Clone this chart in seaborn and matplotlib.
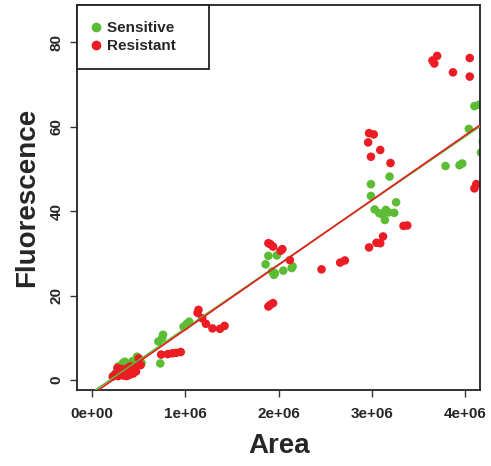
import numpy as np
import pandas as pd
import matplotlib
matplotlib.use("Agg")
import matplotlib.pyplot as plt
import seaborn as sns

# values (area in units of 1e6)
sens_area = [0.25, 0.28, 0.33, 0.35, 0.38, 0.43, 0.48, 0.53,
             0.71, 0.73, 0.75, 0.76,
             0.98, 1.00, 1.015, 1.04,
             1.86, 1.89, 1.93, 1.95, 1.96, 1.98, 2.05, 2.14, 2.15,
             2.99, 2.99, 3.03, 3.08, 3.11, 3.14, 3.15, 3.18, 3.19, 3.24, 3.26,
             3.79, 3.94, 3.97, 4.04, 4.10, 4.15, 4.17, 4.19]
sens_fluor = [1.5, 3.2, 4.0, 4.3, 3.6, 4.4, 5.5, 4.0,
              9.1, 3.9, 9.9, 10.7,
              12.6, 12.8, 13.3, 13.8,
              27.4, 29.4, 25.7, 24.9, 25.3, 29.5, 25.9, 26.5, 26.9,
              46.4, 43.6, 40.4, 39.5, 39.3, 37.9, 40.3, 39.7, 48.2, 39.6, 42.1,
              50.7, 50.9, 51.3, 59.5, 64.9, 65.2, 53.9, 56.5]

res_area = [0.22, 0.24, 0.27, 0.28, 0.30, 0.31, 0.33, 0.34, 0.36, 0.37,
            0.38, 0.40, 0.41, 0.42, 0.44, 0.45, 0.47, 0.50, 0.52,
            0.74, 0.81, 0.86, 0.90, 0.95,
            1.13, 1.14, 1.18, 1.22, 1.29, 1.37, 1.42,
            1.89, 1.91, 1.94, 2.02, 2.04, 2.12, 1.89, 1.91, 1.94,
            2.46, 2.66, 2.71,
            2.97, 3.02, 2.96, 3.09, 2.99, 3.20, 3.34, 3.38, 3.12, 3.05, 3.09, 2.97,
            3.65, 3.67, 3.70, 3.87, 4.05, 4.05, 4.10, 4.12]
res_fluor = [0.8, 1.2, 2.8, 0.9, 1.6, 2.6, 2.2, 1.0, 1.8, 0.9,
             2.8, 1.2, 3.2, 2.3, 1.5, 3.0, 2.0, 5.1, 3.5,
             6.0, 6.1, 6.3, 6.4, 6.6,
             15.9, 16.6, 14.6, 13.3, 12.2, 12.1, 12.8,
             32.4, 32.2, 31.6, 30.6, 31.0, 28.4, 17.4, 17.8, 18.2,
             26.2, 27.8, 28.3,
             58.5, 58.2, 56.3, 54.5, 52.9, 51.4, 36.5, 36.6, 34.0, 32.5, 32.4, 31.4,
             75.7, 75.0, 76.8, 72.9, 76.3, 71.9, 45.4, 46.4]

groups = ["Sensitive", "Resistant"]
colors = {"Sensitive": "#5cbd35", "Resistant": "#ec1c24"}
# fitted lines as shown in the reference: (intercept, slope per unit area)
fit_intercept = {"Sensitive": -2.92, "Resistant": -3.43}
fit_slope = {"Sensitive": 15.15e-6, "Resistant": 15.35e-6}

df = pd.DataFrame({
    "Area": np.array(sens_area + res_area) * 1e6,
    "Fluorescence": sens_fluor + res_fluor,
    "Group": [groups[0]] * len(sens_area) + [groups[1]] * len(res_area),
})

sns.set_style("ticks")
plt.rcParams["font.family"] = ["Liberation Sans", "DejaVu Sans"]
plt.rcParams["font.weight"] = "bold"

fig = plt.figure(figsize=(4.91, 4.66), dpi=100)
ax = fig.add_axes([0.1574, 0.1631, 0.8202, 0.8255])

sns.scatterplot(data=df, x="Area", y="Fluorescence", hue="Group",
                hue_order=groups, palette=colors, s=38, linewidth=0,
                legend=False, ax=ax, zorder=2)

for g in groups:
    ax.axline((0, fit_intercept[g]), slope=fit_slope[g], color=colors[g],
              lw=1.2, zorder=3)

ax.set_xlim(-0.16e6, 4.16e6)
ax.set_ylim(-2.4, 88.8)
ax.set_xticks([0, 1e6, 2e6, 3e6, 4e6])
ax.set_xticklabels(["0e+00", "1e+06", "2e+06", "3e+06", "4e+06"])
ax.set_yticks([0, 20, 40, 60, 80])
for lab in ax.get_yticklabels():
    lab.set_rotation(90)
    lab.set_va("center")
ax.tick_params(axis="both", length=5, width=1, labelsize=11, color="#333333")
ax.tick_params(axis="x", pad=7)
ax.tick_params(axis="y", pad=5)
for sp in ax.spines.values():
    sp.set_visible(True)
    sp.set_linewidth(1.3)
    sp.set_color("#222222")

ax.set_xlabel("Area", fontsize=20, fontweight="bold", labelpad=9)
ax.set_ylabel("Fluorescence", fontsize=20, fontweight="bold", labelpad=7)

handles = [plt.Line2D([], [], ls="", marker="o", ms=6, color=colors[g]) for g in groups]
leg = ax.legend(handles, ["Sensitive    ", "Resistant    "], loc="upper left",
                bbox_to_anchor=(0, 1), borderaxespad=0, fancybox=False,
                frameon=True, edgecolor="#222222", fontsize=11,
                borderpad=1.05, handletextpad=0.5, handlelength=0.4,
                labelspacing=0.25)
leg.get_frame().set_linewidth(1.3)
leg.get_frame().set_alpha(1)

fig.savefig("out.png", dpi=100)
